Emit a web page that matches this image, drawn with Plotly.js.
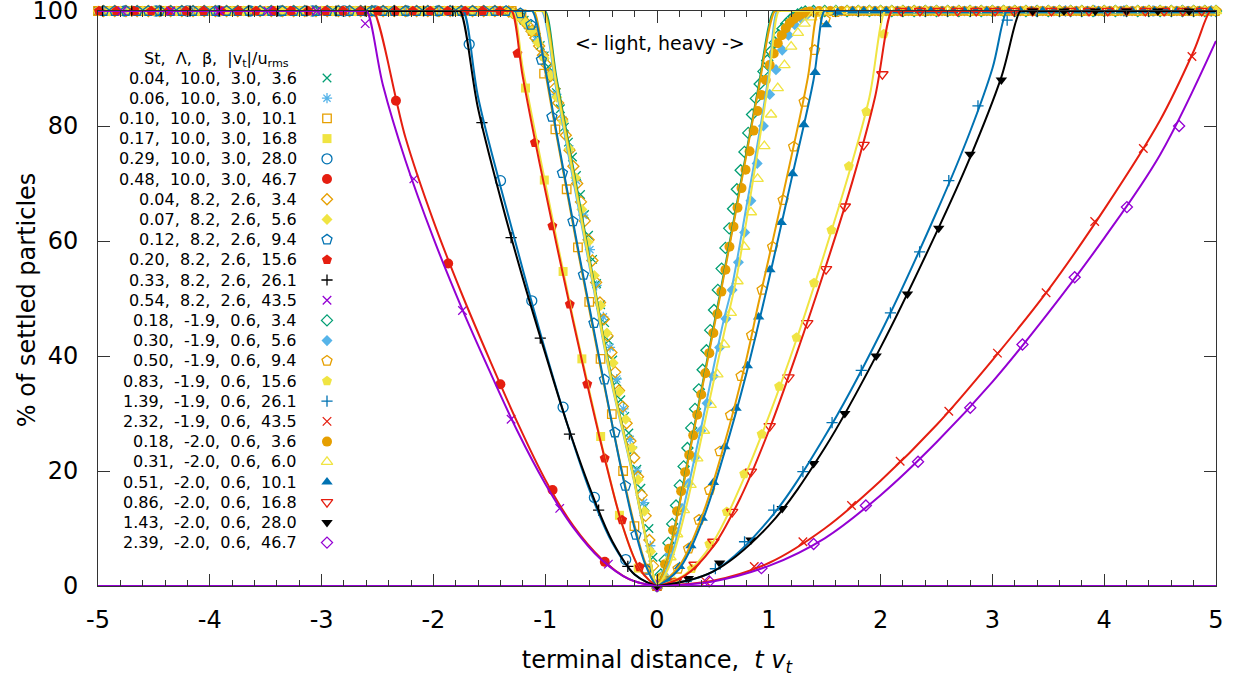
<!DOCTYPE html>
<html><head><meta charset="utf-8">
<script src="https://cdn.plot.ly/plotly-3.0.1.min.js"></script>
<style>html,body{margin:0;padding:0;background:#fff}#chart{width:1239px;height:679px}</style>
</head><body><div id="chart"></div>
<script>
// ---------------- legend / tick texts ----------------
const stVals   = ['0.04','0.06','0.10','0.17','0.29','0.48','0.04','0.07','0.12','0.20','0.33','0.54','0.18','0.30','0.50','0.83','1.39','2.32','0.18','0.31','0.51','0.86','1.43','2.39'];
const lamVals  = ['10.0','10.0','10.0','10.0','10.0','10.0','8.2','8.2','8.2','8.2','8.2','8.2','-1.9','-1.9','-1.9','-1.9','-1.9','-1.9','-2.0','-2.0','-2.0','-2.0','-2.0','-2.0'];
const betaVals = ['3.0','3.0','3.0','3.0','3.0','3.0','2.6','2.6','2.6','2.6','2.6','2.6','0.6','0.6','0.6','0.6','0.6','0.6','0.6','0.6','0.6','0.6','0.6','0.6'];
const vtVals   = ['3.6','6.0','10.1','16.8','28.0','46.7','3.4','5.6','9.4','15.6','26.1','43.5','3.4','5.6','9.4','15.6','26.1','43.5','3.6','6.0','10.1','16.8','28.0','46.7'];
const xTickVals = [-5,-4,-3,-2,-1,0,1,2,3,4,5];
const xTickText = ['-5','-4','-3','-2','-1','0','1','2','3','4','5'];
const yTickVals = [0,20,40,60,80,100];

// ---------------- shared plateau positions (y = 100) ----------------
const plateauLeftA  = [-1.3,-1.4,-1.5,-1.6,-1.7,-1.8,-1.9,-2,-2.1,-2.2,-2.3,-2.4,-2.5,-2.6,-2.7,-2.8,-2.9,-3,-3.1,-3.2,-3.3,-3.4,-3.5,-3.6,-3.7,-3.8,-3.9,-4,-4.1,-4.2,-4.3,-4.4,-4.5,-4.6,-4.7,-4.8,-4.9,-5];
const plateauLeftB  = [-1.35,-1.45,-1.55,-1.65,-1.75,-1.85,-1.95,-2.05,-2.15,-2.25,-2.35,-2.45,-2.55,-2.65,-2.75,-2.85,-2.95,-3.05,-3.15,-3.25,-3.35,-3.45,-3.55,-3.65,-3.75,-3.85,-3.95,-4.05,-4.15,-4.25,-4.35,-4.45,-4.55,-4.65,-4.75,-4.85,-4.95];
const plateauRightA = [1.3,1.4,1.5,1.6,1.7,1.8,1.9,2,2.1,2.2,2.3,2.4,2.5,2.6,2.7,2.8,2.9,3,3.1,3.2,3.3,3.4,3.5,3.6,3.7,3.8,3.9,4,4.1,4.2,4.3,4.4,4.5,4.6,4.7,4.8,4.9,5];
const plateauRightB = [1.35,1.45,1.55,1.65,1.75,1.85,1.95,2.05,2.15,2.25,2.35,2.45,2.55,2.65,2.75,2.85,2.95,3.05,3.15,3.25,3.35,3.45,3.55,3.65,3.75,3.85,3.95,4.05,4.15,4.25,4.35,4.45,4.55,4.65,4.75,4.85,4.95];

// ---------------- measured points ----------------
const s01x=[0,-0.036,-0.072,-0.108,-0.144,-0.18,-0.216,-0.252,-0.288,-0.324,-0.36,-0.396,-0.432,-0.468,-0.504,-0.54,-0.576,-0.612,-0.648,-0.684,-0.72,-0.756,-0.792,-0.828,-0.864,-0.9,-0.936,-0.972,-1.008,-1.044,-1.08,-1.116,-1.152,-1.188,-1.224,-1.26,-1.296];
const s01y=[0,5,10,13.8,17,20.3,23.5,26.6,29.5,32.4,35.5,39.3,42.7,45.8,48.9,52.6,56.8,61,64.6,68.1,71.4,74.6,77.2,79.8,83,85.8,88.2,90.3,92.2,94,95.4,96.6,97.6,98.4,99,99.5,99.8];
const s02x=[0,-0.06,-0.12,-0.18,-0.24,-0.3,-0.36,-0.42,-0.48,-0.54,-0.6,-0.66,-0.72,-0.78,-0.84,-0.9,-0.96,-1.02,-1.08,-1.14,-1.2,-1.26,-1.32];
const s02y=[0,7,14.5,20,25.5,30.8,36,41.5,46.8,52.3,58.5,64.5,70.5,76,81,85.5,89.3,92.4,95,97,98.4,99.3,99.8];
const s03x=[0,-0.101,-0.202,-0.303,-0.404,-0.505,-0.606,-0.707,-0.808,-0.909,-1.01,-1.111,-1.212];
const s03y=[0,3,10.4,20,29.9,39.5,49.4,58.9,69,79.4,89.1,96.5,99.4];
const s04x=[0,-0.168,-0.336,-0.504,-0.672,-0.84,-1.008,-1.176];
const s04y=[0,3.1,12.3,26,39.5,54.7,70.6,86.6];
const s04p=[-1.344,-1.512,-1.68,-1.848,-2.016,-2.184,-2.352,-2.52,-2.688,-2.856,-3.024,-3.192,-3.36,-3.528,-3.696,-3.864,-4.032,-4.2,-4.368,-4.536,-4.704,-4.872];
const s05x=[0,-0.28,-0.56,-0.84,-1.12,-1.4,-1.68];
const s05y=[0,4.6,15.4,31.1,49.6,70.5,94.2];
const s05p=[-1.96,-2.24,-2.52,-2.8,-3.08,-3.36,-3.64,-3.92,-4.2,-4.48,-4.76];
const s06x=[0,-0.467,-0.934,-1.401,-1.868,-2.335];
const s06y=[0,4.2,16.7,35.1,56.1,84.4];
const s06p=[-2.802,-3.269,-3.736,-4.203,-4.67];
const s07x=[0,-0.034,-0.068,-0.102,-0.136,-0.17,-0.204,-0.238,-0.272,-0.306,-0.34,-0.374,-0.408,-0.442,-0.476,-0.51,-0.544,-0.578,-0.612,-0.646,-0.68,-0.714,-0.748,-0.782,-0.816,-0.85,-0.884,-0.918,-0.952,-0.986,-1.02,-1.054,-1.088,-1.122,-1.156,-1.19,-1.224,-1.258,-1.292,-1.326];
const s07y=[0,3.5,8,12.2,15.8,19,22.3,25.2,28.3,31.2,34,37.2,40.6,43.5,46.4,49.3,52.8,56.6,60.2,63.5,66.8,70,73,75.8,78.4,81.2,84,86.5,88.7,90.6,92.3,93.9,95.3,96.5,97.5,98.3,98.9,99.4,99.7,99.9];
const s08x=[0,-0.056,-0.112,-0.168,-0.224,-0.28,-0.336,-0.392,-0.448,-0.504,-0.56,-0.616,-0.672,-0.728,-0.784,-0.84,-0.896,-0.952,-1.008,-1.064,-1.12,-1.176,-1.232,-1.288];
const s08y=[0,6,13,18.5,24,29,33.8,38.8,44,48.8,54,59.8,65.5,71,76,80.8,85,88.8,91.8,94.5,96.5,98,99,99.6];
const s09x=[0,-0.094,-0.188,-0.282,-0.376,-0.47,-0.564,-0.658,-0.752,-0.846,-0.94,-1.034,-1.128,-1.222];
const s09y=[0,2.8,8.9,17.4,26.7,35.9,45.7,54.1,63.4,71.8,81.6,91.5,97.6,99.6];
const s10x=[0,-0.156,-0.312,-0.468,-0.624,-0.78,-0.936,-1.092,-1.248];
const s10y=[0,3.3,11.5,22.2,35.1,49,62.6,77.1,92.6];
const s10p=[-1.404,-1.56,-1.716,-1.872,-2.028,-2.184,-2.34,-2.496,-2.652,-2.808,-2.964,-3.12,-3.276,-3.432,-3.588,-3.744,-3.9,-4.056,-4.212,-4.368,-4.524,-4.68,-4.836,-4.992];
const s11x=[0,-0.261,-0.522,-0.783,-1.044,-1.305,-1.566];
const s11y=[0,3.4,13.2,26.4,43.1,60.6,80.6];
const s11p=[-1.827,-2.088,-2.349,-2.61,-2.871,-3.132,-3.393,-3.654,-3.915,-4.176,-4.437,-4.698,-4.959];
const s12x=[0,-0.435,-0.87,-1.305,-1.74,-2.175,-2.61];
const s12y=[0,3.8,13.5,29,47.9,70.8,97.8];
const s12p=[-3.045,-3.48,-3.915,-4.35,-4.785];
const s13x=[0,0.034,0.068,0.102,0.136,0.17,0.204,0.238,0.272,0.306,0.34,0.374,0.408,0.442,0.476,0.51,0.544,0.578,0.612,0.646,0.68,0.714,0.748,0.782,0.816,0.85,0.884,0.918,0.952,0.986,1.02,1.054,1.088,1.122,1.156,1.19,1.224,1.258,1.292,1.326];
const s13y=[0,2,4.5,7.5,10.8,14,17.5,20.8,24,27.5,30.8,34.2,37.6,41,44.5,48,51.5,55.2,58.8,62.2,65.6,69,72.3,75.5,78.8,82,84.8,87.3,89.5,91.4,93,94.5,95.8,96.9,97.8,98.5,99,99.4,99.7,99.9];
const s14x=[0,0.056,0.112,0.168,0.224,0.28,0.336,0.392,0.448,0.504,0.56,0.616,0.672,0.728,0.784,0.84,0.896,0.952,1.008,1.064,1.12,1.176,1.232,1.288,1.344,1.4];
const s14y=[0,2,5.5,9.5,13.5,17.8,22.3,27,31.8,36.5,41.5,46.5,51.5,56.3,61.5,67,73.5,80,85.5,89.8,93.2,95.8,97.6,98.7,99.4,99.8];
const s15x=[0,0.094,0.188,0.282,0.376,0.47,0.564,0.658,0.752,0.846,0.94,1.034,1.128,1.222,1.316,1.41,1.504,1.598];
const s15y=[0,0.8,3,6.5,11.5,16.7,23.4,29.7,36.5,43.6,51.5,59,67.1,76.4,84.2,93.2,98.5,99.8];
const s16x=[0,0.156,0.312,0.468,0.624,0.78,0.936,1.092,1.248,1.404,1.56,1.716,1.872,2.028];
const s16y=[0,0.8,3,7.3,12.9,19.5,26.4,34.7,43.2,52.7,61.9,73,82.5,96];
const s16p=[2.184,2.34,2.496,2.652,2.808,2.964,3.12,3.276,3.432,3.588,3.744,3.9,4.056,4.212,4.368,4.524,4.68,4.836,4.992];
const s17x=[0,0.261,0.522,0.783,1.044,1.305,1.566,1.827,2.088,2.349,2.61,2.871,3.132];
const s17y=[0,0.8,3,7.7,13.2,19.9,28.4,37.5,47.5,58.1,70.5,83.5,98.4];
const s17p=[3.393,3.654,3.915,4.176,4.437,4.698,4.959];
const s18x=[0,0.435,0.87,1.305,1.74,2.175,2.61,3.045,3.48,3.915,4.35,4.785];
const s18y=[0,0.8,3.4,7.7,14,21.7,30.4,40.5,51,63.4,76.1,92.1];
const s18p=[];
const s19x=[0,0.036,0.072,0.108,0.144,0.18,0.216,0.252,0.288,0.324,0.36,0.396,0.432,0.468,0.504,0.54,0.576,0.612,0.648,0.684,0.72,0.756,0.792,0.828,0.864,0.9,0.936,0.972,1.008,1.044,1.08,1.116,1.152,1.188,1.224,1.26,1.296,1.332,1.368];
const s19y=[0,1.5,3.8,6.5,9.7,13,16.5,19.8,22.8,26.2,29.8,33.3,37,40.5,44,47.3,51.2,55,59,62.5,65.8,69.2,72.4,75.6,79.2,82.6,85.4,88,90.6,92.6,94.4,95.8,97,97.9,98.6,99.1,99.5,99.8,99.9];
const s20x=[0,0.06,0.12,0.18,0.24,0.3,0.36,0.42,0.48,0.54,0.6,0.66,0.72,0.78,0.84,0.9,0.96,1.02,1.08,1.14,1.2,1.26,1.32,1.38,1.44,1.5];
const s20y=[0,1.8,5,9,13.2,17.6,22.2,27,31.5,36.8,42,47.5,53,59,65,70.8,76.5,82,86.6,90.6,93.8,96.2,97.8,98.9,99.5,99.9];
const s21x=[0,0.101,0.202,0.303,0.404,0.505,0.606,0.707,0.808,0.909,1.01,1.111,1.212,1.313,1.414,1.515,1.616];
const s21y=[0,1,3.4,7,11.8,18,24.2,30.9,38.3,46.8,55,63.2,71.7,80.2,89.3,97.6,99.8];
const s22x=[0,0.168,0.336,0.504,0.672,0.84,1.008,1.176,1.344,1.512,1.68,1.848,2.016];
const s22y=[0,0.8,3.7,7.7,12.9,19.9,27.8,36.3,45.7,55.1,66,76.7,89];
const s22p=[2.184,2.352,2.52,2.688,2.856,3.024,3.192,3.36,3.528,3.696,3.864,4.032,4.2,4.368,4.536,4.704,4.872];
const s23x=[0,0.28,0.56,0.84,1.12,1.4,1.68,1.96,2.24,2.52,2.8,3.08];
const s23y=[0,1.3,4,8,13.5,21.3,30,40,50.8,62.2,75.1,88];
const s23p=[3.36,3.64,3.92,4.2,4.48,4.76];
const s24x=[0,0.467,0.934,1.401,1.868,2.335,2.802,3.269,3.736,4.203,4.67];
const s24y=[0,0.8,3.1,7.3,14,21.6,31,42,53.7,65.9,80];
const s24p=[];

// ---------------- fitted curves ----------------
const f01x=[-5,-1.03,-1.0,-0.9,-0.8,-0.7,-0.56,-0.48,-0.39,-0.3,-0.212,-0.152,-0.078,0,0.03,5];
const f01y=[100,100,100,88.5,78,67.5,52.3,43.5,34.8,27,19.4,13.5,6.5,0,0,0];
const f02x=[-5,-1.06,-1.03,-0.9,-0.8,-0.7,-0.56,-0.48,-0.39,-0.3,-0.212,-0.152,-0.078,0,0.03,5];
const f02y=[100,100,100,86.3,75.8,65.5,51,42.4,33.8,26.3,18.8,13,6.2,0,0,0];
const f03x=[-5,-1.13,-1.1,-1.0,-0.9,-0.8,-0.7,-0.6,-0.5,-0.4,-0.3,-0.2,-0.1,0,0.03,5];
const f03y=[100,100,100,89.5,78.5,68,57.5,47.5,37.5,28,18.8,10.5,3.8,0,0,0];
const f04x=[-5,-1.315,-1.285,-1.2,-1.05,-0.9,-0.75,-0.6,-0.45,-0.3,-0.15,0,0.03,5];
const f04y=[100,100,100,90,75,60.5,46.5,33.5,21,10,2.8,0,0,0];
const f05x=[-5,-1.762,-1.732,-1.6,-1.4,-1.2,-1.0,-0.8,-0.6,-0.4,-0.2,0,0.03,5];
const f05y=[100,100,100,85,69.5,55,41,28,16.5,7.5,2,0,0,0];
const f06x=[-5,-2.567,-2.537,-2.25,-2.0,-1.75,-1.5,-1.25,-1.0,-0.75,-0.5,-0.25,0,0.03,5];
const f06y=[100,100,100,78,63.5,51,39.5,28.5,18.5,10.5,4.8,1.2,0,0,0];
const f07x=[-5,-1.04,-1.01,-0.9,-0.8,-0.7,-0.56,-0.48,-0.39,-0.3,-0.212,-0.152,-0.078,0,0.03,5];
const f07y=[100,100,100,87.7,77.3,66.8,51.8,43.1,34.4,26.8,19.2,13.3,6.4,0,0,0];
const f08x=[-5,-1.05,-1.02,-0.9,-0.8,-0.7,-0.56,-0.48,-0.39,-0.3,-0.212,-0.152,-0.078,0,0.03,5];
const f08y=[100,100,100,87.1,76.7,66.3,51.5,42.8,34.1,26.6,19,13.2,6.3,0,0,0];
const f09x=[-5,-1.145,-1.115,-1.0,-0.9,-0.8,-0.7,-0.6,-0.5,-0.4,-0.3,-0.2,-0.1,0,0.03,5];
const f09y=[100,100,100,90,79,68.5,58,48,38,28,18.5,10,3.5,0,0,0];
const f10x=[-5,-1.33,-1.3,-1.2,-1.05,-0.9,-0.75,-0.6,-0.45,-0.3,-0.15,0,0.03,5];
const f10y=[100,100,100,88.5,73.5,59.5,46,33,20.8,10,2.8,0,0,0];
const f11x=[-5,-1.792,-1.762,-1.6,-1.4,-1.2,-1.0,-0.8,-0.6,-0.4,-0.2,0,0.03,5];
const f11y=[100,100,100,83,67.5,53.5,40.5,28,17,7.8,2,0,0,0];
const f12x=[-5,-2.627,-2.597,-2.45,-2.25,-2.0,-1.75,-1.5,-1.25,-1.0,-0.75,-0.5,-0.25,0,0.03,5];
const f12y=[100,100,100,87,74,60.5,48.5,37.5,27,17.8,10.2,4.6,1.2,0,0,0];
const f13x=[-5,-0.03,0,0.1,0.2,0.3,0.4,0.5,0.57,0.7,0.8,0.9,1.045,1.075,5];
const f13y=[0,0,0,5.2,14.3,24.4,34.4,44.5,51.5,65,75.5,86,100,100,100];
const f14x=[-5,-0.03,0,0.1,0.2,0.3,0.4,0.5,0.6,0.665,0.8,0.9,1.0,1.075,1.105,5];
const f14y=[0,0,0,3.5,10.5,19,28,37.5,46.5,51.5,66,77,89,100,100,100];
const f15x=[-5,-0.03,0,0.2,0.4,0.6,0.8,0.906,1.0,1.2,1.35,1.443,1.473,5];
const f15y=[0,0,0,3.5,12,24.5,39.5,49,57,74.5,88.5,100,100,100];
const f16x=[-5,-0.03,0,0.25,0.5,0.75,1.0,1.25,1.5,1.75,1.9,2.04,2.07,5];
const f16y=[0,0,0,2,7.6,17.5,29.5,43,58,74,85,100,100,100];
const f17x=[-5,-0.03,0,0.5,1.0,1.5,2.0,2.5,2.8,3.0,3.13,3.16,5];
const f17y=[0,0,0,2.5,11.5,26,44,65,79,90,100,100,100];
const f18x=[-5,-0.03,0,0.5,1.0,1.5,2.0,2.5,3.0,3.5,4.0,4.5,4.8,4.95,4.98,5];
const f18y=[0,0,0,0.9,4,10,18.3,28,39.3,51.5,65.5,81,93,100,100,100];
const f19x=[-5,-0.03,0,0.1,0.2,0.3,0.4,0.5,0.57,0.7,0.8,0.9,1.055,1.085,5];
const f19y=[0,0,0,5,14,24,34,44,51,64.5,75,85.5,100,100,100];
const f20x=[-5,-0.03,0,0.1,0.2,0.3,0.4,0.5,0.6,0.7,0.8,0.9,1.0,1.09,1.12,5];
const f20y=[0,0,0,3,9,17,26,35,44,52.5,63.5,75.5,88,100,100,100];
const f21x=[-5,-0.03,0,0.2,0.4,0.6,0.8,1.0,1.2,1.4,1.497,1.527,5];
const f21y=[0,0,0,3,11,23,37,53.2,70.5,88,100,100,100];
const f22x=[-5,-0.03,0,0.25,0.5,0.75,1.0,1.25,1.5,1.75,1.95,2.1,2.13,5];
const f22y=[0,0,0,1.8,6.8,15.5,27,40.5,55,70.5,85,100,100,100];
const f23x=[-5,-0.03,0,0.5,1.0,1.5,2.0,2.5,2.8,3.08,3.25,3.28,5];
const f23y=[0,0,0,2.5,10.5,24,41.5,61.5,74.5,88.5,100,100,100];
const f24x=[-5,-0.03,0,0.5,1.0,1.5,2.0,2.5,3.0,3.5,4.0,4.5,5.0];
const f24y=[0,0,0,0.8,3.5,8.3,15.8,25,35.5,47.5,60.5,75,94.8];

// ---------------- styles ----------------
const G='#009e73', LB='#56b4e9', O='#e69f00', Y='#f0e442', B='#0072b2', R='#e51e10', K='#000000', P='#9400d3';
const colors=[G,LB,O,Y,B,R, O,Y,B,R,K,P, G,LB,O,Y,B,R, O,Y,B,R,K,P];
const symbols=['x-thin-open','asterisk-open','square-open','square','circle-open','circle',
  'diamond-open','diamond','pentagon-open','pentagon','cross-thin-open','x-thin-open',
  'diamond-open','diamond','pentagon-open','pentagon','cross-thin-open','x-thin-open',
  'circle','triangle-up-open','triangle-up','triangle-down-open','triangle-down','diamond-open'];
const symSize={'x-thin-open':8.5,'asterisk-open':8.5,'square-open':8.5,'square':9,'circle-open':10,'circle':10,
  'diamond-open':8.5,'diamond':8.5,'pentagon-open':10.5,'pentagon':10.5,'cross-thin-open':8,
  'triangle-up-open':10,'triangle-up':10,'triangle-down-open':10,'triangle-down':10};

const SX=[s01x,s02x,s03x,s04x,s05x,s06x,s07x,s08x,s09x,s10x,s11x,s12x,s13x,s14x,s15x,s16x,s17x,s18x,s19x,s20x,s21x,s22x,s23x,s24x];
const SY=[s01y,s02y,s03y,s04y,s05y,s06y,s07y,s08y,s09y,s10y,s11y,s12y,s13y,s14y,s15y,s16y,s17y,s18y,s19y,s20y,s21y,s22y,s23y,s24y];
const SP=[plateauLeftA,plateauLeftB,plateauLeftA,s04p,s05p,s06p,plateauLeftB,plateauLeftA,plateauLeftB,s10p,s11p,s12p,
          plateauRightA,plateauRightB,plateauRightA,s16p,s17p,s18p,plateauRightB,plateauRightA,plateauRightB,s22p,s23p,s24p];
const FX=[f01x,f02x,f03x,f04x,f05x,f06x,f07x,f08x,f09x,f10x,f11x,f12x,f13x,f14x,f15x,f16x,f17x,f18x,f19x,f20x,f21x,f22x,f23x,f24x];
const FY=[f01y,f02y,f03y,f04y,f05y,f06y,f07y,f08y,f09y,f10y,f11y,f12y,f13y,f14y,f15y,f16y,f17y,f18y,f19y,f20y,f21y,f22y,f23y,f24y];

function markerStyle(i){
  const sym=symbols[i], c=colors[i], open=/open/.test(sym);
  return {symbol:sym,size:symSize[sym],color:c,line:{color:c,width:open?1.3:0}};
}

const traces=[];
// data points
for(let i=0;i<24;i++){
  const xs=SX[i], ys=SY[i];
  const last=Math.abs(xs[xs.length-1]);
  const plat=SP[i].filter(v=>Math.abs(v)>last+0.05);
  traces.push({type:'scatter',mode:'markers',x:xs.concat(plat),y:ys.concat(plat.map(()=>100)),
    marker:markerStyle(i),cliponaxis:false,showlegend:false,hoverinfo:'skip'});
}
// fit curves
for(let i=0;i<24;i++){
  traces.push({type:'scatter',mode:'lines',x:FX[i],y:FY[i],
    line:{color:colors[i],width:2,shape:'spline',smoothing:1},showlegend:false,hoverinfo:'skip'});
}
// key symbols (pixel-like overlay axes)
const keyTop=78, keyStep=20.2, keySymX=327, keyTextX=299;
const annotations=[];
for(let i=0;i<24;i++){
  const ry=keyTop+i*keyStep;
  traces.push({type:'scatter',mode:'markers',x:[keySymX],y:[ry],xaxis:'x2',yaxis:'y2',
    marker:markerStyle(i),cliponaxis:false,showlegend:false,hoverinfo:'skip'});
  annotations.push({xref:'x2',yref:'y2',x:keyTextX,y:ry,xanchor:'right',yanchor:'middle',showarrow:false,
    text:stVals[i]+',\u00a0 '+lamVals[i]+',\u00a0 '+betaVals[i]+',\u00a0 '+vtVals[i],
    font:{family:'DejaVu Sans',size:16,color:'#000'}});
}
annotations.push({xref:'x2',yref:'y2',x:216,y:59,xanchor:'center',yanchor:'middle',showarrow:false,
  text:'St,\u00a0 \u039b,\u00a0 \u03b2,\u00a0 |v<sub>t</sub>|/u<sub>rms</sub>',font:{family:'DejaVu Sans',size:16,color:'#000'}});
annotations.push({xref:'x2',yref:'y2',x:660,y:43,xanchor:'center',yanchor:'middle',showarrow:false,
  text:'&lt;- light, heavy -&gt;',font:{family:'DejaVu Sans',size:19,color:'#000'}});
// y axis title (paper coordinates, left of the plot area)
annotations.push({xref:'paper',yref:'paper',x:-0.0635,y:0.497,xanchor:'center',yanchor:'middle',showarrow:false,textangle:-90,
  text:'% of settled particles',font:{family:'DejaVu Sans',size:24,color:'#000'}});

const axCol='#333';
const layout={
  width:1239,height:679,
  margin:{l:98,r:23,t:11,b:93,pad:0},
  paper_bgcolor:'#fff',plot_bgcolor:'#fff',
  font:{family:'DejaVu Sans, sans-serif',color:'#000',size:16},
  showlegend:false,hovermode:false,
  xaxis:{range:[-5,5],tickmode:'array',tickvals:xTickVals,ticktext:xTickText,
    ticks:'inside',ticklen:12,tickwidth:1,tickcolor:axCol,showline:true,linecolor:axCol,linewidth:1,mirror:'ticks',
    showgrid:false,zeroline:false,tickfont:{size:24,family:'DejaVu Sans',color:'#000'},ticklabelstandoff:12,
    ticklabeloverflow:'allow',
    minor:{tick0:0,dtick:0.2,ticks:'inside',ticklen:6,tickwidth:1,tickcolor:axCol,showgrid:false},
    title:{text:'terminal distance,\u00a0 <i>t v<sub>t</sub></i>',font:{size:24,family:'DejaVu Sans',color:'#000'},standoff:18}},
  yaxis:{range:[0,100],tickmode:'array',tickvals:yTickVals,
    ticks:'inside',ticklen:12,tickwidth:1,tickcolor:axCol,showline:true,linecolor:axCol,linewidth:1,mirror:'ticks',
    showgrid:false,zeroline:false,tickfont:{size:24,family:'DejaVu Sans',color:'#000'},ticklabelstandoff:14,
    ticklabeloverflow:'allow'},
  xaxis2:{overlaying:'x',range:[98,1216],visible:false,fixedrange:true},
  yaxis2:{overlaying:'y',range:[586,11],visible:false,fixedrange:true},
  annotations:annotations
};
Plotly.newPlot('chart',traces,layout,{displayModeBar:false,staticPlot:true});
</script></body></html>
